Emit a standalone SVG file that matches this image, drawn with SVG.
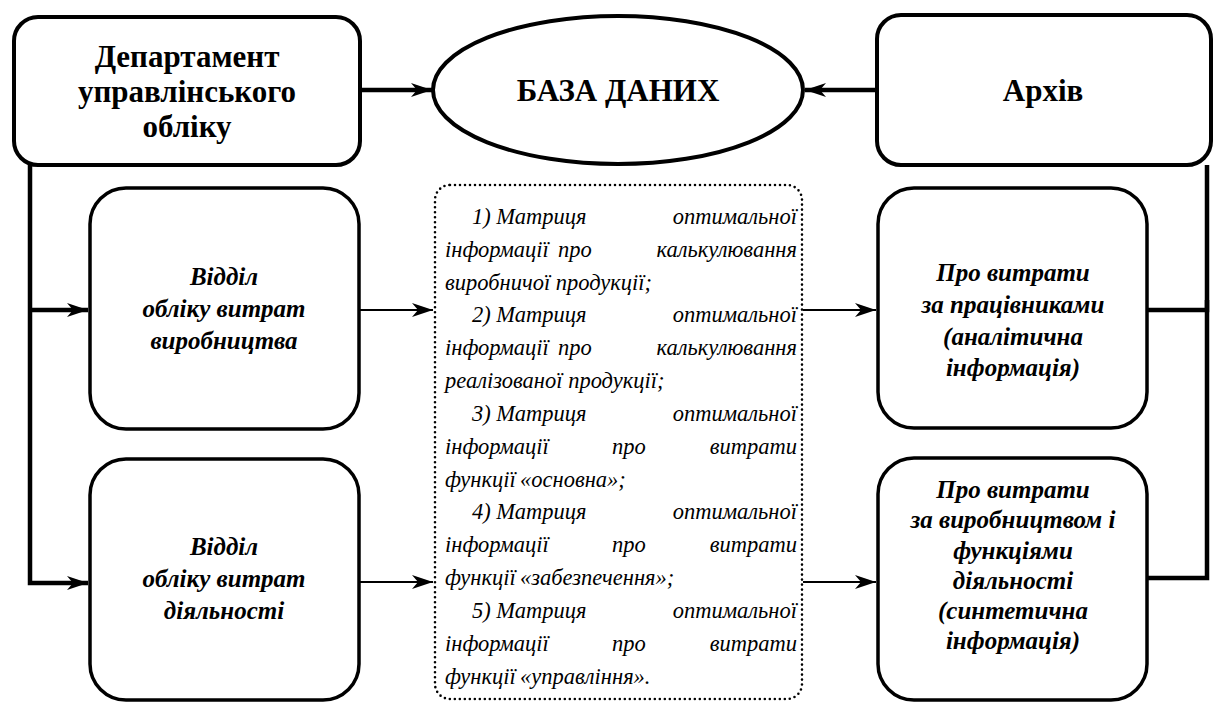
<svg xmlns="http://www.w3.org/2000/svg" width="1215" height="702" viewBox="0 0 1215 702">
<style>
.box{fill:#fff;stroke:#000;stroke-width:4}
.box3{fill:#fff;stroke:#000;stroke-width:3.5}
.dot{fill:none;stroke:#000;stroke-width:2.6;stroke-dasharray:0 5;stroke-linecap:round}
.thick{fill:none;stroke:#000;stroke-width:4.5}
.thin{fill:none;stroke:#000;stroke-width:2.2}
.hb{font:bold 31px 'Liberation Serif',serif;text-anchor:middle}
.bi{font:italic bold 25px 'Liberation Serif',serif;text-anchor:middle}
.it{font:italic 22.5px 'Liberation Serif',serif}
.e{text-anchor:end}
</style>
<defs>
<marker id="ah" markerUnits="userSpaceOnUse" markerWidth="22" markerHeight="16" viewBox="0 0 22 16" refX="21" refY="8" orient="auto">
<path d="M0,1 L21,8 L0,15 L6,8 z" fill="#000"/>
</marker>
</defs>
<g id="connectors">
<line class="thick" x1="360" y1="90" x2="432" y2="90" marker-end="url(#ah)"/>
<line class="thick" x1="877" y1="90" x2="805" y2="90" marker-end="url(#ah)"/>
<polyline class="thick" points="30,165 30,583 88,583" marker-end="url(#ah)"/>
<line class="thick" x1="30" y1="310" x2="88" y2="310" marker-end="url(#ah)"/>
<line class="thin" x1="360" y1="310" x2="433" y2="310" marker-end="url(#ah)"/>
<line class="thin" x1="360" y1="582" x2="433" y2="582" marker-end="url(#ah)"/>
<line class="thin" x1="803" y1="310" x2="876" y2="310" marker-end="url(#ah)"/>
<line class="thin" x1="803" y1="582" x2="876" y2="582" marker-end="url(#ah)"/>
<polyline class="thick" points="1147,310 1207,310 1207,165"/>
<polyline class="thick" points="1147,578 1207,578 1207,300"/>
</g>
<g id="dept">
<rect class="box" x="14" y="17" width="346" height="148" rx="24"/>
<text class="hb" x="187" y="67">Департамент</text>
<text class="hb" x="187" y="102">управлінського</text>
<text class="hb" x="187" y="137">обліку</text>
</g>
<g id="db">
<ellipse class="box" cx="618" cy="90" rx="185" ry="74"/>
<text class="hb" x="618" y="101">БАЗА ДАНИХ</text>
</g>
<g id="archive">
<rect class="box" x="877" y="15" width="334" height="150" rx="24"/>
<text class="hb" x="1043" y="101">Архів</text>
</g>
<g id="dept-prod">
<rect class="box3" x="90" y="188" width="269" height="241" rx="36"/>
<text class="bi" x="224" y="285">Відділ</text>
<text class="bi" x="224" y="317">обліку витрат</text>
<text class="bi" x="224" y="349">виробництва</text>
</g>
<g id="dept-act">
<rect class="box3" x="90" y="459" width="269" height="241" rx="36"/>
<text class="bi" x="224" y="555">Відділ</text>
<text class="bi" x="224" y="587">обліку витрат</text>
<text class="bi" x="224" y="619">діяльності</text>
</g>
<g id="matrix">
<rect class="dot" x="435" y="185" width="367" height="514" rx="15"/>
<text class="it" x="472" y="224">1) Матриця</text><text class="it e" x="797" y="224">оптимальної</text>
<text class="it" x="445" y="257">інформації</text><text class="it" x="558" y="257">про</text><text class="it e" x="797" y="257">калькулювання</text>
<text class="it" x="445" y="290">виробничої продукції;</text>
<text class="it" x="472" y="322">2) Матриця</text><text class="it e" x="797" y="322">оптимальної</text>
<text class="it" x="445" y="355">інформації</text><text class="it" x="558" y="355">про</text><text class="it e" x="797" y="355">калькулювання</text>
<text class="it" x="445" y="388">реалізованої продукції;</text>
<text class="it" x="472" y="421">3) Матриця</text><text class="it e" x="797" y="421">оптимальної</text>
<text class="it" x="445" y="454">інформації</text><text class="it" x="612" y="454">про</text><text class="it e" x="797" y="454">витрати</text>
<text class="it" x="445" y="487">функції</text><text class="it" x="520" y="487">«основна»;</text>
<text class="it" x="472" y="519">4) Матриця</text><text class="it e" x="797" y="519">оптимальної</text>
<text class="it" x="445" y="552">інформації</text><text class="it" x="612" y="552">про</text><text class="it e" x="797" y="552">витрати</text>
<text class="it" x="445" y="585">функції</text><text class="it" x="520" y="585">«забезпечення»;</text>
<text class="it" x="472" y="618">5) Матриця</text><text class="it e" x="797" y="618">оптимальної</text>
<text class="it" x="445" y="651">інформації</text><text class="it" x="612" y="651">про</text><text class="it e" x="797" y="651">витрати</text>
<text class="it" x="445" y="684">функції</text><text class="it" x="520" y="684">«управління».</text>
</g>
<g id="analytic">
<rect class="box3" x="878" y="188" width="269" height="240" rx="36"/>
<text class="bi" x="1013" y="281">Про витрати</text>
<text class="bi" x="1013" y="313">за працівниками</text>
<text class="bi" x="1013" y="345">(аналітична</text>
<text class="bi" x="1013" y="376">інформація)</text>
</g>
<g id="synthetic">
<rect class="box3" x="878" y="458" width="269" height="242" rx="36"/>
<text class="bi" x="1013" y="498">Про витрати</text>
<text class="bi" x="1013" y="528">за виробництвом і</text>
<text class="bi" x="1013" y="559">функціями</text>
<text class="bi" x="1013" y="589">діяльності</text>
<text class="bi" x="1013" y="619">(синтетична</text>
<text class="bi" x="1013" y="649">інформація)</text>
</g>
</svg>
